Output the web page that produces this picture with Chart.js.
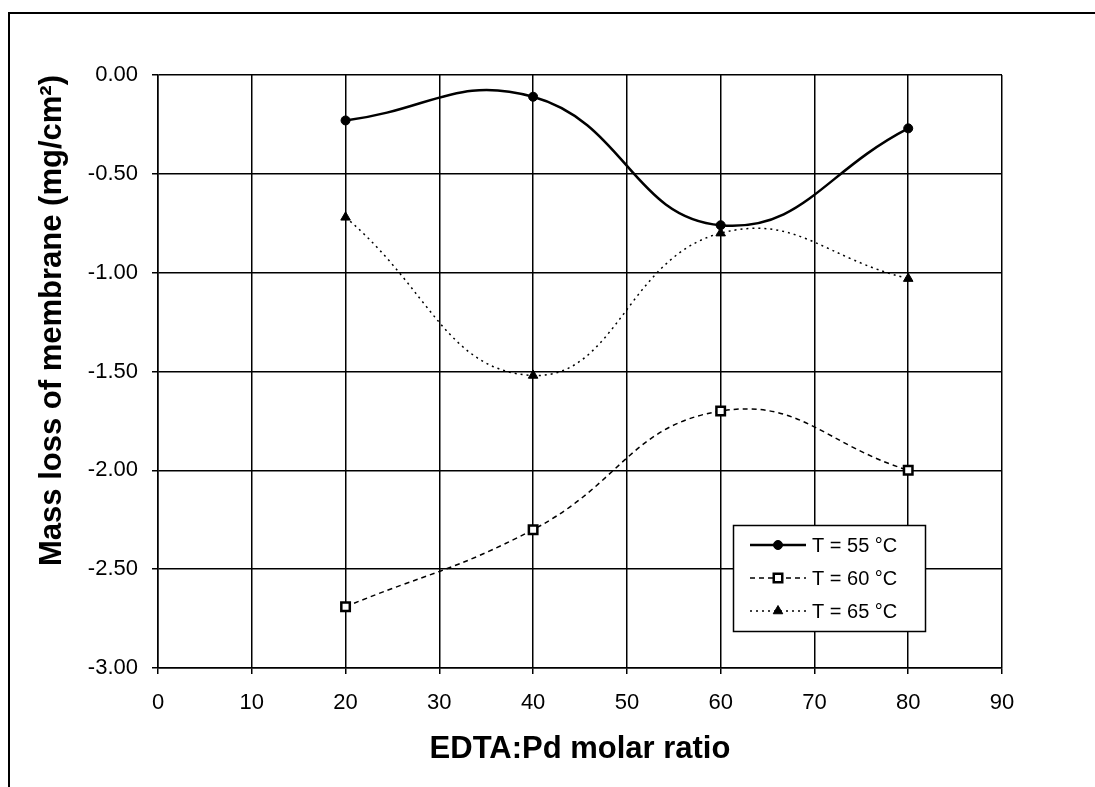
<!DOCTYPE html>
<html>
<head>
<meta charset="utf-8">
<title>Mass loss vs EDTA:Pd ratio</title>
<script src="https://cdn.jsdelivr.net/npm/chart.js@4.4.0/dist/chart.umd.min.js"></script>
<style>
  html, body { margin: 0; padding: 0; background: #fff; }
  #wrap { width: 1095px; height: 787px; }
</style>
</head>
<body>
<div id="wrap"><canvas id="chart" width="1095" height="787"></canvas></div>
<script>
// EDTA:Pd molar ratio on x, membrane mass loss (mg/cm2) on y
const ratios = [20, 40, 60, 80];
const loss55 = [-0.23, -0.11, -0.76, -0.27];
const loss60 = [-2.69, -2.30, -1.70, -2.00];
const loss65 = [-0.72, -1.52, -0.80, -1.03];
const seriesLabels = ['T = 55 °C', 'T = 60 °C', 'T = 65 °C'];

const FONT = "Arial, 'Liberation Sans', sans-serif";

const toPoints = (ys) => ratios.map((x, i) => ({ x, y: ys[i] }));

// white background + the thin frame around the figure
const framePlugin = {
  id: 'frame',
  beforeDraw(chart) {
    const ctx = chart.ctx;
    ctx.save();
    ctx.fillStyle = '#fff';
    ctx.fillRect(0, 0, chart.width, chart.height);
    ctx.strokeStyle = '#000';
    ctx.lineWidth = 2;
    ctx.beginPath();
    ctx.moveTo(9, chart.height);
    ctx.lineTo(9, 13);
    ctx.lineTo(chart.width, 13);
    ctx.stroke();
    ctx.restore();
  }
};

// boxed legend sitting inside the plot, lower right
const boxLegend = {
  id: 'boxLegend',
  afterDraw(chart) {
    const ctx = chart.ctx;
    const x0 = 733.5, y0 = 525.5, w = 192, h = 106;
    ctx.save();
    ctx.fillStyle = '#fff';
    ctx.fillRect(x0, y0, w, h);
    ctx.strokeStyle = '#000';
    ctx.lineWidth = 1.5;
    ctx.strokeRect(x0, y0, w, h);

    chart.data.datasets.forEach((ds, i) => {
      const y = 545 + i * 33;
      ctx.strokeStyle = ds.borderColor;
      ctx.lineWidth = ds.borderWidth;
      ctx.setLineDash(ds.borderDash || []);
      ctx.beginPath();
      ctx.moveTo(750, y);
      ctx.lineTo(806, y);
      ctx.stroke();
      ctx.setLineDash([]);
      ctx.fillStyle = ds.pointBackgroundColor;
      ctx.strokeStyle = ds.pointBorderColor;
      ctx.lineWidth = ds.pointBorderWidth;
      Chart.helpers.drawPoint(ctx, {
        pointStyle: ds.pointStyle,
        radius: ds.pointRadius,
        rotation: 0,
        borderWidth: ds.pointBorderWidth
      }, 778, y);
      ctx.fillStyle = '#000';
      ctx.font = '20px ' + FONT;
      ctx.textBaseline = 'middle';
      ctx.textAlign = 'left';
      ctx.fillText(ds.label, 812, y + 1);
    });
    ctx.restore();
  }
};

new Chart(document.getElementById('chart'), {
  type: 'line',
  data: {
    datasets: [
      {
        label: seriesLabels[0],
        data: toPoints(loss55),
        borderColor: '#000',
        borderWidth: 2.5,
        tension: 0.45,
        pointStyle: 'circle',
        pointRadius: 4.5,
        pointBackgroundColor: '#000',
        pointBorderColor: '#000',
        pointBorderWidth: 1
      },
      {
        label: seriesLabels[1],
        data: toPoints(loss60),
        borderColor: '#000',
        borderWidth: 1.5,
        borderDash: [5, 4],
        tension: 0.45,
        pointStyle: 'rect',
        pointRadius: 6,
        pointBackgroundColor: '#fff',
        pointBorderColor: '#000',
        pointBorderWidth: 2.5
      },
      {
        label: seriesLabels[2],
        data: toPoints(loss65),
        borderColor: '#000',
        borderWidth: 1.5,
        borderDash: [2, 4],
        tension: 0.45,
        pointStyle: 'triangle',
        pointRadius: 5.5,
        pointBackgroundColor: '#000',
        pointBorderColor: '#000',
        pointBorderWidth: 1
      }
    ]
  },
  options: {
    responsive: false,
    animation: false,
    layout: { padding: { top: 75, right: 93, bottom: 0, left: 0 } },
    plugins: {
      legend: { display: false },
      tooltip: { enabled: false }
    },
    scales: {
      x: {
        type: 'linear',
        min: 0,
        max: 90,
        afterFit: (s) => { s.height = 119; },
        ticks: { stepSize: 10, color: '#000', padding: 16, font: { family: FONT, size: 22 } },
        grid: { color: '#000', lineWidth: 1.5, tickLength: 6 },
        border: { color: '#000', width: 1.5 },
        title: {
          display: true,
          text: 'EDTA:Pd molar ratio',
          color: '#000',
          padding: { top: 0, bottom: 19 },
          font: { family: FONT, size: 31, weight: 'bold' }
        }
      },
      y: {
        min: -3,
        max: 0,
        afterFit: (s) => { s.width = 158; },
        ticks: {
          stepSize: 0.5,
          color: '#000',
          padding: 14,
          font: { family: FONT, size: 22 },
          callback: (v) => v.toFixed(2)
        },
        grid: { color: '#000', lineWidth: 1.5, tickLength: 6 },
        border: { color: '#000', width: 1.5 },
        title: {
          display: true,
          text: 'Mass loss of membrane (mg/cm²)',
          align: 'end',
          color: '#000',
          padding: { top: 34, bottom: 0 },
          font: { family: FONT, size: 31, weight: 'bold' }
        }
      }
    }
  },
  plugins: [framePlugin, boxLegend]
});
</script>
</body>
</html>
